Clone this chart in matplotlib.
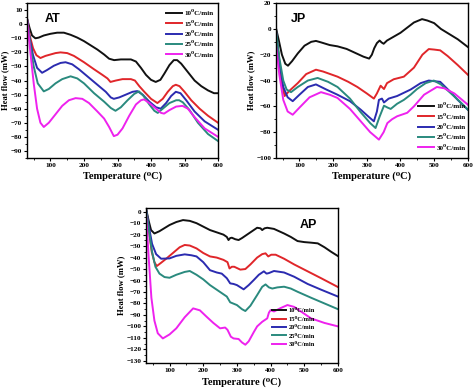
import matplotlib
matplotlib.use("Agg")
import matplotlib.pyplot as plt
from matplotlib.ticker import MultipleLocator, AutoMinorLocator

rates = ["10\u2070C/min", "15\u2070C/min", "20\u2070C/min", "25\u2070C/min", "30\u2070C/min"]
colors = ["#111111", "#e0262a", "#2b2bb0", "#2a8a7e", "#ee22ee"]

# ---------------- AT ----------------
at_x = [
    [30, 38, 45, 55, 65, 80, 100, 120, 140, 160, 180, 200, 220, 240, 260, 275, 290, 310, 340, 355, 370, 385, 400, 414, 428, 440, 455, 468, 478, 490, 510, 530, 550, 570, 588, 600],
    [30, 38, 48, 58, 70, 85, 100, 115, 130, 150, 170, 200, 230, 255, 270, 279, 295, 315, 340, 352, 365, 380, 400, 419, 435, 450, 465, 474, 485, 500, 520, 545, 570, 600],
    [30, 38, 48, 60, 75, 90, 110, 130, 145, 165, 185, 210, 240, 265, 280, 289, 305, 325, 345, 359, 375, 395, 415, 429, 445, 460, 474, 488, 505, 530, 560, 600],
    [30, 40, 50, 62, 80, 95, 115, 135, 160, 180, 200, 230, 260, 280, 294, 310, 330, 350, 364, 378, 395, 410, 420, 435, 455, 475, 484, 495, 515, 540, 570, 600],
    [30, 40, 50, 60, 70, 80, 95, 115, 135, 155, 175, 195, 215, 240, 260, 275, 289, 300, 315, 335, 355, 370, 379, 395, 415, 430, 439, 455, 475, 494, 510, 530, 560, 600],
]
at_y = [
    [4, -3, -8, -10, -9.5, -8, -6.8, -6, -6, -7.5, -9.5, -12, -15, -18, -21.5, -24.5, -25.5, -25, -25, -26.5, -31, -36, -39.5, -41, -39.5, -35, -29, -25.5, -25.5, -28, -34, -40, -44, -47, -49, -49],
    [4, -8, -17, -22, -24, -22.5, -21.5, -20.5, -20, -20.5, -22.5, -27, -32, -36, -38.5, -41, -40, -39, -39, -40, -44, -48, -53, -56, -53, -48, -44, -43, -44, -48, -54, -60, -65, -70],
    [4, -10, -22, -31, -34.5, -32.5, -29.5, -27.5, -27, -28.5, -32, -37, -43, -48, -52, -53, -52, -50, -48, -47.5, -50, -55, -59, -60, -56, -51, -48, -49, -54, -62, -69, -75],
    [4, -15, -30, -42, -47.7, -46, -42, -39, -37, -38.5, -42, -49, -55, -59.5, -61.5, -59, -54, -49.5, -47.7, -51, -57, -61.5, -63, -60, -56, -54, -54, -55.5, -61, -70, -78, -83],
    [4, -20, -42, -60, -70, -73, -70, -64, -58, -54, -52.5, -53, -56, -62, -67, -73, -79.5, -78.5, -74, -65, -57, -54, -53.4, -56, -60, -63, -63.5, -61, -58.5, -58, -60, -66, -74, -80],
]

# ---------------- JP ----------------
jp_x = [
    [30, 38, 48, 58, 66, 78, 95, 115, 135, 149, 165, 190, 213, 240, 265, 290, 307, 315, 322, 330, 338, 344, 350, 360, 380, 400, 420, 440, 464, 480, 500, 520, 545, 570, 600],
    [30, 38, 46, 56, 70, 95, 120, 149, 170, 213, 245, 272, 300, 321, 330, 341, 351, 360, 380, 410, 440, 465, 484, 500, 518, 540, 570, 600],
    [30, 40, 52, 65, 80, 100, 125, 149, 180, 213, 250, 282, 305, 321, 330, 336, 345, 351, 365, 390, 430, 460, 484, 500, 518, 545, 570, 600],
    [30, 40, 52, 62, 75, 95, 125, 154, 185, 213, 250, 282, 310, 326, 338, 351, 362, 371, 390, 410, 430, 449, 475, 499, 520, 550, 575, 600],
    [30, 40, 52, 65, 80, 100, 130, 164, 190, 213, 250, 282, 310, 336, 350, 361, 375, 390, 420, 440, 470, 508, 530, 560, 600],
]
jp_y = [
    [1, -8, -20, -27, -28.5, -25, -19, -13, -10, -9.3, -10.5, -12.5, -13.5, -15.5, -18.5, -21.5, -23, -20, -15, -11, -9, -10.5, -11.5, -9, -6, -3, 1, 5, 7.6, 6.5, 4.5, 0, -4, -8, -14],
    [0, -20, -40, -52, -48, -42, -35, -31.6, -33, -37, -41, -45, -50, -54, -50, -44, -46.6, -42, -39, -37, -30, -20, -15.6, -16, -16.6, -21, -28, -35.5],
    [0, -25, -45, -53, -56, -51, -45, -43, -47, -51, -56, -62.6, -68, -71.6, -64, -55, -54, -57, -54, -52, -47, -42, -40, -40.5, -41, -48, -55, -62.6],
    [0, -22, -40, -47, -49, -45, -40, -38, -41, -45, -54, -64.6, -73, -76.8, -68, -59.5, -61, -62, -58, -55, -51, -46.6, -42, -40, -43, -50, -56, -62.6],
    [-11, -35, -55, -64, -66.5, -61, -53, -49, -51, -53.5, -62, -71.6, -80, -85.8, -80, -73, -70, -67.7, -65, -60, -51, -45, -46, -50, -58.7],
]

# ---------------- AP ----------------
ap_x = [
    [30, 38, 45, 55, 70, 100, 120, 140, 160, 180, 200, 220, 240, 260, 270, 275, 280, 285, 295, 305, 315, 330, 345, 360, 370, 375, 382, 390, 410, 440, 460, 480, 500, 520, 540, 560, 580, 600],
    [30, 38, 47, 55, 62, 75, 90, 110, 130, 145, 160, 180, 200, 220, 240, 260, 272, 278, 285, 292, 310, 325, 340, 360, 375, 385, 393, 402, 415, 440, 470, 510, 550, 600],
    [30, 38, 48, 60, 75, 100, 120, 145, 165, 180, 200, 220, 240, 255, 270, 280, 290, 300, 320, 335, 350, 365, 380, 388, 395, 410, 440, 470, 510, 550, 600],
    [30, 38, 48, 58, 70, 85, 100, 120, 145, 160, 180, 200, 220, 250, 270, 280, 300, 315, 325, 340, 360, 375, 385, 395, 405, 420, 440, 460, 480, 520, 560, 600],
    [30, 38, 46, 55, 65, 80, 100, 120, 145, 170, 190, 210, 230, 250, 265, 272, 282, 290, 305, 315, 325, 335, 350, 360, 375, 390, 395, 400, 410, 430, 450, 470, 490, 520, 560, 600],
]
ap_y = [
    [3, -8, -16, -19, -17, -11.6, -9, -7.3, -8, -10, -13, -16, -18, -20, -22, -24.7, -23, -22.7, -24, -24.7, -23, -20, -17, -14, -14.5, -16, -14.5, -14, -15, -19, -22, -25.6, -26.5, -27, -27.6, -31, -35, -38.7],
    [3, -15, -35, -44, -47.4, -44.5, -41, -36, -31, -29, -29.5, -32, -36, -39, -40, -42, -44, -49.5, -48, -48, -50.5, -50, -46, -40, -37, -36.3, -39, -37.5, -37.5, -41, -46, -52, -58, -65.7],
    [3, -12, -28, -37, -41, -40.7, -38.5, -37.2, -38, -39, -44, -51, -53, -54, -58, -62.5, -63, -64, -67.7, -64, -59.6, -55, -52, -54, -53.5, -51.7, -53, -56.7, -63, -68, -74],
    [3, -15, -35, -48, -54, -57, -57.6, -55, -52.5, -51.7, -55, -59, -64, -70, -74, -79, -81.4, -85, -86.6, -82, -72.7, -65.5, -63.4, -66, -67, -66, -65.4, -67, -69.8, -75, -80, -85],
    [0, -40, -75, -95, -106, -110.5, -107, -101.7, -92, -84.3, -86, -91.6, -97, -101.7, -101, -103, -109, -110.5, -111, -114, -116, -113, -105, -100, -96, -93, -88, -85.8, -87, -84, -81.4, -83, -87, -93, -97, -100],
]

SERIF = ["Liberation Serif", "DejaVu Serif"]
SANS = ["Liberation Sans", "DejaVu Sans"]

fig = plt.figure(figsize=(4.74, 3.90), dpi=100)


def make_panel(rect, xs, ys, name, ylim, ymajor, name_pos, legend_loc, legend_anchor, label_size, spacing):
    ax = fig.add_axes(rect)
    for x, y, c, lab in zip(xs, ys, colors, rates):
        ax.plot(x, y, color=c, lw=1.4, label=lab)
    ax.set_xlim(30, 600)
    ax.set_ylim(*ylim)
    ax.xaxis.set_major_locator(MultipleLocator(100))
    ax.xaxis.set_minor_locator(AutoMinorLocator(2))
    ax.yaxis.set_major_locator(MultipleLocator(ymajor))
    ax.yaxis.set_minor_locator(AutoMinorLocator(2))
    ax.tick_params(which="major", direction="out", length=2.2, width=0.8, pad=1.2)
    ax.tick_params(which="minor", direction="out", length=1.3, width=0.6)
    for lab in ax.get_xticklabels() + ax.get_yticklabels():
        lab.set_fontfamily(SERIF)
        lab.set_fontweight("bold")
        lab.set_fontsize(5.2)
    for s in ax.spines.values():
        s.set_linewidth(1.0)
    ax.set_xlabel("Temperature (\u2070C)", fontfamily=SERIF, fontweight="bold", fontsize=7.5, labelpad=3)
    ax.set_ylabel("Heat flow (mW)", fontfamily=SERIF, fontweight="bold", fontsize=6.2, labelpad=1)
    ax.text(name_pos[0], name_pos[1], name, transform=ax.transAxes, fontfamily=SANS,
            fontweight="bold", fontsize=9, ha="left", va="center")
    ax.legend(loc=legend_loc, bbox_to_anchor=legend_anchor, frameon=False,
              prop={"family": SERIF, "weight": "bold", "size": label_size},
              handlelength=2.3, handletextpad=0.35, labelspacing=spacing, borderaxespad=0.2)
    return ax


make_panel([0.057, 0.595, 0.403, 0.397], at_x, at_y, "AT", (-95, 15), 10,
           (0.09, 0.90), "upper right", (1.0, 0.98), 5.0, 0.62)
make_panel([0.582, 0.595, 0.405, 0.397], jp_x, jp_y, "JP", (-100, 20), 20,
           (0.08, 0.90), "lower right", (1.01, 0.02), 5.0, 0.62)
make_panel([0.308, 0.069, 0.405, 0.397], ap_x, ap_y, "AP", (-132, 3), 10,
           (0.80, 0.89), "lower right", (0.90, 0.08), 4.6, 0.45)

fig.savefig("out.png", dpi=100)
